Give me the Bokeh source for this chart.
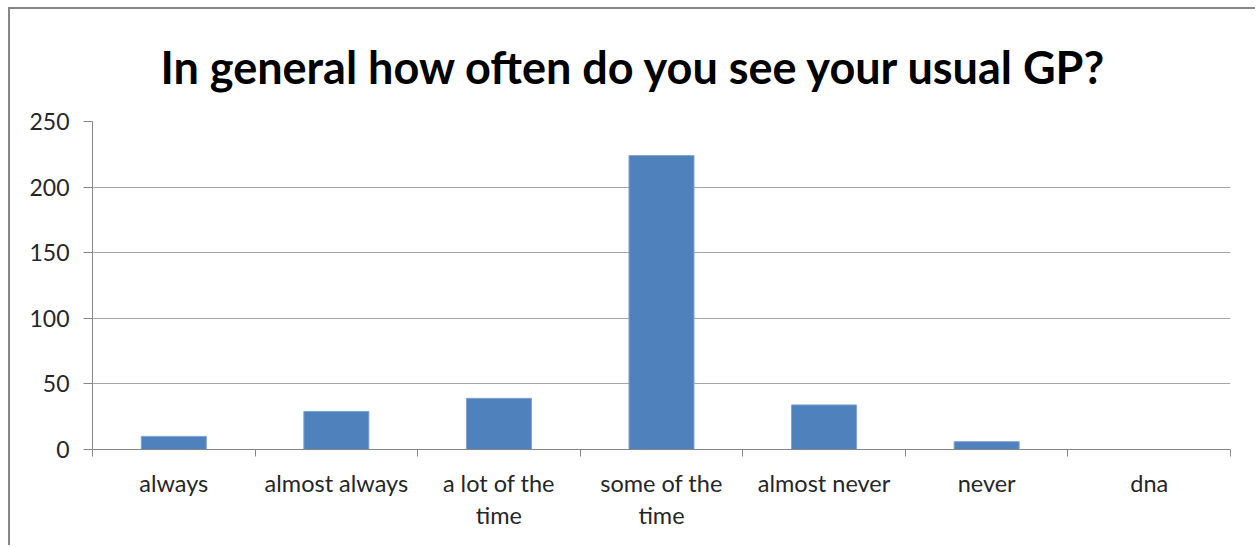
from bokeh.plotting import figure
from bokeh.models import Range1d, FixedTicker, Title, ColumnDataSource
from bokeh.embed import file_html
from bokeh.resources import INLINE

categories = ["always", "almost always", "a lot of the\ntime", "some of the\ntime",
              "almost never", "never", "dna"]
counts = [10, 29, 39, 224, 34, 6, 0]
y_ticks = [0, 50, 100, 150, 200, 250]
title_text = "In general how often do you see your usual GP?"

FONT = "Lato"
centers = [i + 0.5 for i in range(len(categories))]
boundaries = list(range(len(categories) + 1))

src = ColumnDataSource(dict(x=centers, top=counts))

p = figure(width=1247, height=538, output_backend="svg", toolbar_location=None,
           x_range=Range1d(0, len(categories)), y_range=Range1d(0, 250),
           min_border_left=82, min_border_right=27, min_border_top=112, min_border_bottom=98)
p.styles = {"margin-left": "8px", "margin-top": "7px",
            "border-left": "2px solid #878787", "border-top": "2px solid #878787"}
p.outline_line_color = None
p.background_fill_color = "white"
p.border_fill_color = "white"

p.vbar(x="x", top="top", width=0.4, bottom=0, source=src,
       fill_color="#4f81bd", line_color="#7fa3d3", line_width=1)

# axes
p.xaxis.ticker = FixedTicker(ticks=centers, minor_ticks=boundaries)
p.xaxis.major_label_overrides = {c: lab for c, lab in zip(centers, categories)}
p.xaxis.major_tick_line_color = None
p.xaxis.minor_tick_out = 7
p.xaxis.minor_tick_in = 0
p.xaxis.minor_tick_line_color = "#868686"
p.xaxis.axis_line_color = "#868686"
p.xaxis.major_label_text_font = FONT
p.xaxis.major_label_text_font_size = "23.5px"
p.xaxis.major_label_text_color = "#262626"
p.xaxis.major_label_standoff = 12
p.xaxis.major_label_text_line_height = 1.15

p.yaxis.ticker = FixedTicker(ticks=y_ticks)
p.yaxis.minor_tick_line_color = None
p.yaxis.major_tick_out = 9
p.yaxis.major_tick_in = 0
p.yaxis.major_tick_line_color = "#868686"
p.yaxis.axis_line_color = "#868686"
p.yaxis.major_label_text_font = FONT
p.yaxis.major_label_text_font_size = "23px"
p.yaxis.major_label_text_color = "#262626"
p.yaxis.major_label_standoff = 14

p.xgrid.grid_line_color = None
p.ygrid.ticker = FixedTicker(ticks=y_ticks)
p.ygrid.grid_line_color = "#a6a6a6"
p.ygrid.grid_line_width = 1

p.add_layout(Title(text=title_text, align="left", offset=68, standoff=56,
                   text_font=FONT, text_font_style="bold", text_font_size="45px",
                   text_line_height=1.0, text_color="black"), "above")

open("out.html", "w").write(file_html(p, INLINE))
